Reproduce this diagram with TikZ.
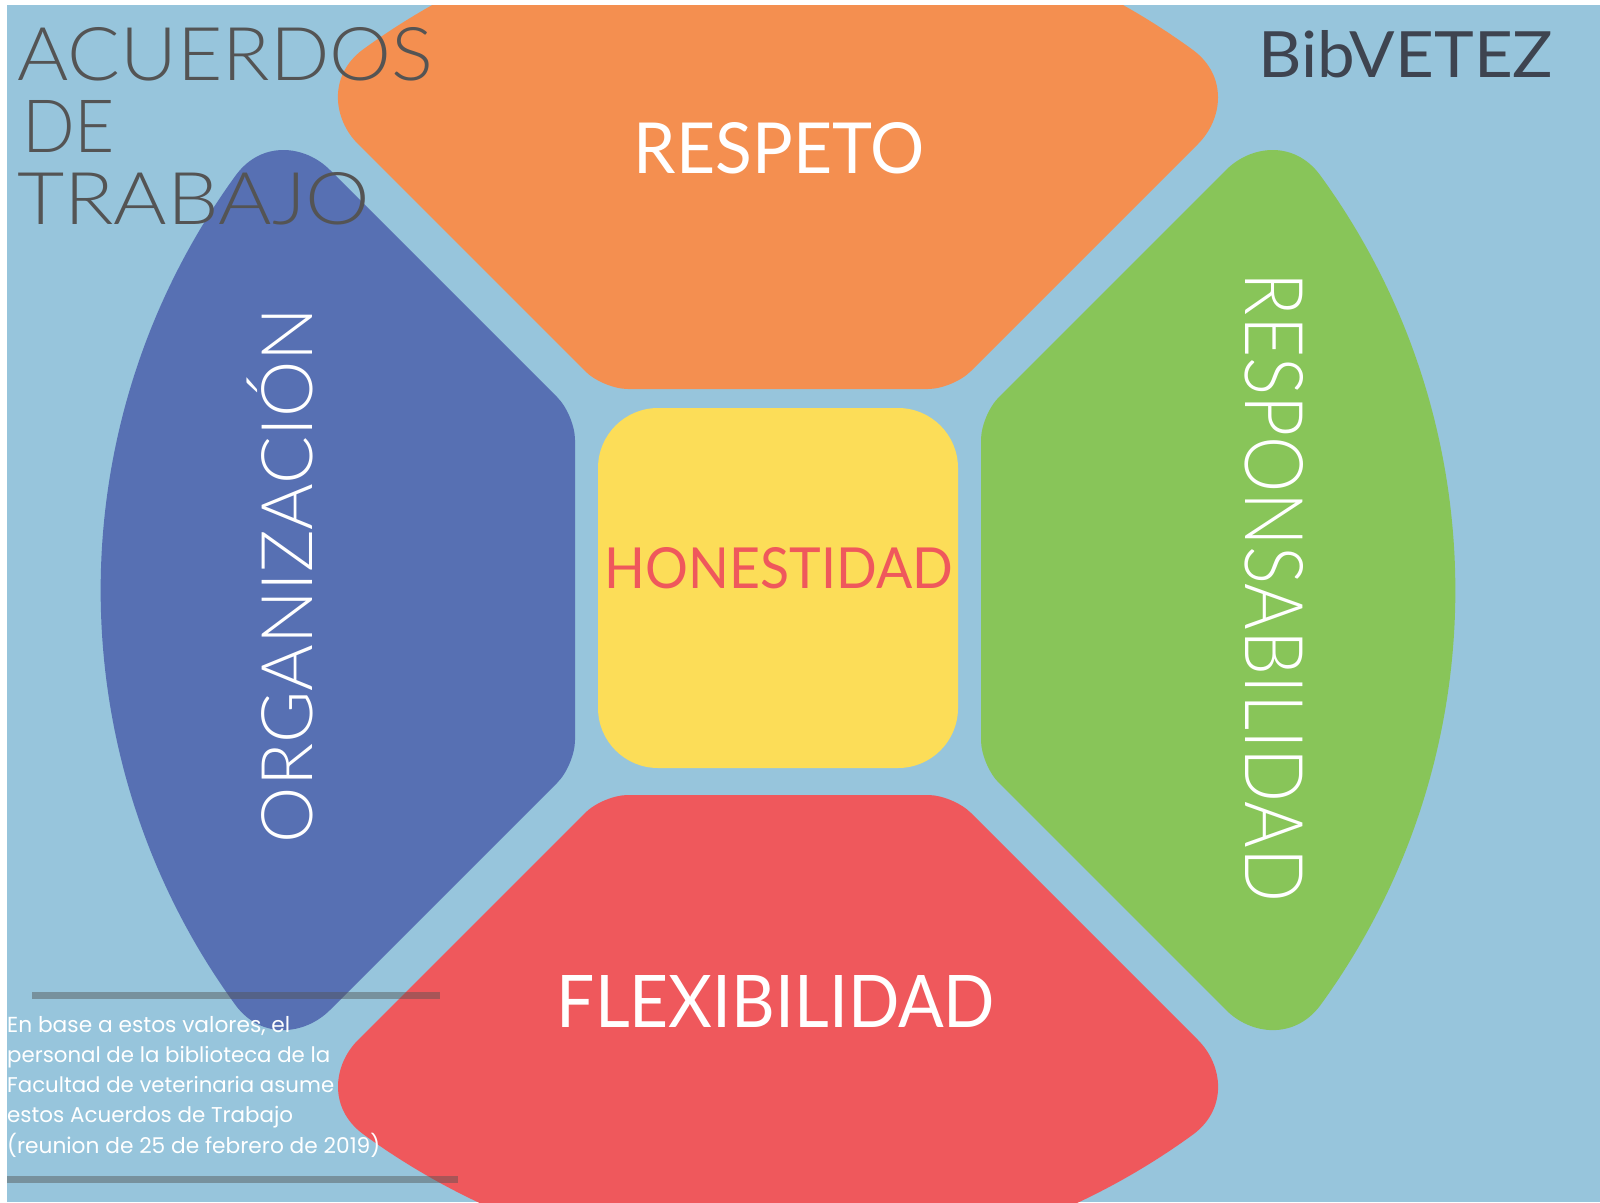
\documentclass[tikz,border=0pt]{standalone}
\usepackage{fontspec}
\usepackage{graphicx}
\setmainfont{Lato}
\newfontfamily\lightfont{Lato Light}
\newfontfamily\parafont{Poppins}
\definecolor{bgblue}{HTML}{97C5DC}
\definecolor{orangeC}{HTML}{F48F50}
\definecolor{blueC}{HTML}{5770B3}
\definecolor{greenC}{HTML}{88C559}
\definecolor{redC}{HTML}{EF585C}
\definecolor{yellowC}{HTML}{FCDD58}
\definecolor{titlegray}{HTML}{545454}
\definecolor{bibgray}{HTML}{3E4450}
\def\petal{(-448,420) .. controls (-473,445) and (-516,450) .. (-542,415)
  arc[start angle=143.9, end angle=216.1, radius=705]
  .. controls (-516,-450) and (-473,-445) .. (-448,-420)
  -- (-220.7,-192.7) .. controls (-211,-183) and (-203,-164) .. (-203,-150)
  -- (-203,150) .. controls (-203,164) and (-211,183) .. (-220.7,192.7) -- cycle}
\tikzset{
  bigword/.style={inner sep=0pt, text=white, font=\lightfont},
  midword/.style={inner sep=0pt, text=white, font=\rmfamily},
  titleword/.style={inner sep=0pt, anchor=base west, text=titlegray, font=\lightfont},
  paraline/.style={inner sep=0pt, anchor=base west, text=white, font=\parafont},
  bar/.style={fill=black!68, fill opacity=0.45}
}
\begin{document}
\begin{tikzpicture}[x=1pt,y=1pt]
\useasboundingbox (0,-1202) rectangle (1600,0);
\fill[white] (0,-1202) rectangle (1600,0);
\begin{scope}
\clip (7,-1202) rectangle (1600,-5);
\fill[bgblue] (7,-1202) rectangle (1600,-5);
\begin{scope}[shift={(778,-590)}] \fill[blueC] \petal; \end{scope}
\begin{scope}[shift={(778,-590)},xscale=-1] \fill[greenC] \petal; \end{scope}
\begin{scope}[shift={(778,-592)},rotate=-90] \fill[orangeC] \petal; \end{scope}
\begin{scope}[shift={(778,-592)},rotate=90] \fill[redC] \petal; \end{scope}
\fill[yellowC, rounded corners=60pt] (598,-768) rectangle (958,-408);

\node[titleword] (t1) at (17,-80) {\resizebox{416pt}{53pt}{ACUERDOS}};
\node[titleword] (t2) at (22,-152) {\resizebox{93pt}{52pt}{DE}};
\node[titleword] (t3) at (17,-224) {\resizebox{353pt}{52pt}{TRABAJO}};
\node[inner sep=0pt, anchor=base west, text=bibgray] (bib) at (1258,-77) {\resizebox{295pt}{47pt}{BibVETEZ}};

\node[midword, anchor=base] (resp) at (779,-173) {\resizebox{290pt}{51pt}{RESPETO}};
\node[midword, anchor=base, text=redC] (hon) at (779,-588) {\resizebox{348pt}{41pt}{HONESTIDAD}};
\node[midword, anchor=base] (flex) at (776,-1027) {\resizebox{438pt}{52pt}{FLEXIBILIDAD}};
\node[bigword, anchor=base, rotate=90] (org) at (312,-575.5) {\resizebox{535pt}{!}{ORGANIZACIÓN}};
\node[bigword, anchor=base, rotate=-90] (rsb) at (1245,-587.5) {\resizebox{629pt}{58pt}{RESPONSABILIDAD}};

\fill[bar] (32,-998.5) rectangle (440,-991.5);
\fill[bar] (7,-1182.5) rectangle (458,-1175.5);

\node[paraline] (p1) at (7,-1032) {\resizebox{283pt}{!}{En base a estos valores, el}};
\node[paraline] (p2) at (7,-1062) {\resizebox{323pt}{!}{personal de la biblioteca de la}};
\node[paraline] (p3) at (7,-1092) {\resizebox{327pt}{!}{Facultad de veterinaria asume}};
\node[paraline] (p4) at (7,-1122) {\resizebox{286pt}{!}{estos Acuerdos de Trabajo}};
\node[paraline] (p5) at (7,-1153) {\resizebox{373pt}{!}{(reunion de 25 de febrero de 2019)}};
\end{scope}
\end{tikzpicture}
\end{document}
